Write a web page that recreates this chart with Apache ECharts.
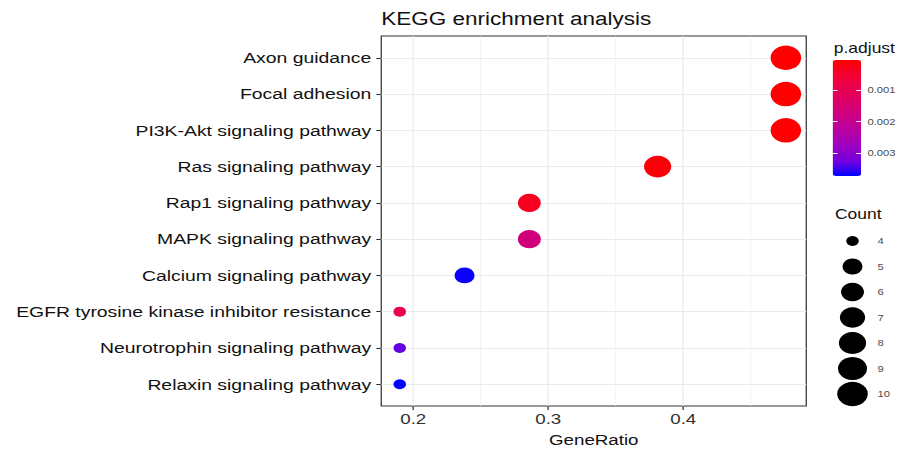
<!DOCTYPE html>
<html>
<head>
<meta charset="utf-8">
<title>KEGG enrichment analysis</title>
<script src="https://cdn.jsdelivr.net/npm/echarts@6/dist/echarts.min.js"></script>
<style>
  html, body { margin: 0; padding: 0; overflow: hidden; background: #fff; }
  /* the plot is laid out at 728px and stretched to 910px wide */
  #chart { width: 728px; height: 453px; transform: scaleX(1.25); transform-origin: 0 0; }
</style>
</head>
<body>
<div id="chart"></div>
<script>
// KEGG pathways, top to bottom
const pathways = [
  'Axon guidance',
  'Focal adhesion',
  'PI3K-Akt signaling pathway',
  'Ras signaling pathway',
  'Rap1 signaling pathway',
  'MAPK signaling pathway',
  'Calcium signaling pathway',
  'EGFR tyrosine kinase inhibitor resistance',
  'Neurotrophin signaling pathway',
  'Relaxin signaling pathway'
];
const geneRatio = [0.476, 0.476, 0.476, 0.381, 0.286, 0.286, 0.238, 0.190, 0.190, 0.190];
const geneCount = [10, 10, 10, 8, 6, 6, 5, 4, 4, 4];
const pAdjust   = [0.000032, 0.00004, 0.00005, 0.0001, 0.00033, 0.0017, 0.0037, 0.00092, 0.00333, 0.003735];

// axis ticks and legend keys
const xTicks = [0.2, 0.3, 0.4];
const xRange = [0.1763, 0.4911];
const pTicks = [0.001, 0.002, 0.003];
const countKeys = [4, 5, 6, 7, 8, 9, 10];

// red -> blue gradient (interpolated in Lab space)
const pColors = ['#ff0000', '#f40031', '#e80050', '#da006c', '#ca0088', '#b500a5', '#9a00c3', '#7300e0', '#0000ff'];

const rowPad = 0.6;
const rowIdx = pathways.map((_, i) => i);
const cMin = Math.min(...countKeys), cMax = Math.max(...countKeys);
const pMin = Math.min(...pAdjust), pMax = Math.max(...pAdjust);
// dot diameter: area-style size scale over the Count range
const dotSize = c => 10 + 14.5 * Math.sqrt((c - cMin) / (cMax - cMin));

const font = "'Liberation Sans', Arial, Helvetica, sans-serif";
const ink = '#111111';
const tickInk = '#333333';
const legendInk = '#4d4d4d';

const points = pathways.map((name, i) => [geneRatio[i], i, geneCount[i], pAdjust[i], name]);
const keyPoints = countKeys.map(c => ['k', String(c), c]);

const chart = echarts.init(document.getElementById('chart'), null, { renderer: 'svg' });
chart.setOption({
  animation: false,
  backgroundColor: '#ffffff',
  textStyle: { fontFamily: font },
  title: [
    { text: 'KEGG enrichment analysis', left: 305, top: 10, padding: 0,
      textStyle: { fontSize: 18, fontWeight: 'normal', color: ink, fontFamily: font } },
    { text: 'p.adjust', left: 667, top: 41, padding: 0,
      textStyle: { fontSize: 14, fontWeight: 'normal', color: ink, fontFamily: font } },
    { text: 'Count', left: 668, top: 207, padding: 0,
      textStyle: { fontSize: 14, fontWeight: 'normal', color: ink, fontFamily: font } }
  ],
  grid: [
    { left: 305, right: 83, top: 36, bottom: 42, show: true, borderColor: '#333333', borderWidth: 1, backgroundColor: '#ffffff' },
    { left: 666, top: 60, width: 23, height: 116 },
    { left: 672, top: 241, width: 20, height: 153 }
  ],
  xAxis: [
    { gridIndex: 0, type: 'value', min: xRange[0], max: xRange[1], minInterval: 0.1, maxInterval: 0.1,
      name: 'GeneRatio', nameLocation: 'middle', nameGap: 27,
      nameTextStyle: { fontSize: 15, color: ink, fontFamily: font },
      axisLine: { show: false, onZero: false },
      axisTick: { show: true, length: 4, customValues: xTicks, lineStyle: { color: tickInk } },
      axisLabel: { customValues: xTicks, fontSize: 15, color: '#333333', margin: 6,
        formatter: v => v.toFixed(1) },
      splitLine: { show: true, lineStyle: { color: '#ebebeb', width: 1 } },
      minorTick: { show: false, splitNumber: 2 },
      minorSplitLine: { show: true, lineStyle: { color: '#ebebeb', width: 0.6 } } },
    { gridIndex: 1, type: 'value', show: false },
    { gridIndex: 2, type: 'category', data: ['k'], show: false }
  ],
  yAxis: [
    { gridIndex: 0, type: 'value', inverse: true, min: -rowPad, max: pathways.length - 1 + rowPad,
      minInterval: 1, maxInterval: 1,
      axisLine: { show: false, onZero: false },
      axisTick: { show: true, length: 4, customValues: rowIdx, lineStyle: { color: tickInk } },
      axisLabel: { customValues: rowIdx, fontSize: 15.5, color: ink, margin: 8,
        formatter: v => pathways[Math.round(v)] || '' },
      splitLine: { show: true, lineStyle: { color: '#ebebeb', width: 1 } } },
    { gridIndex: 1, type: 'value', inverse: true, min: pMin, max: pMax, position: 'right', z: 10,
      minInterval: 0.001, maxInterval: 0.001,
      axisLine: { show: false, onZero: false },
      axisTick: { show: true, inside: true, length: 4, customValues: pTicks, lineStyle: { color: '#ffffff', width: 1 } },
      axisLabel: { customValues: pTicks, fontSize: 9, color: legendInk, margin: 5,
        formatter: v => v.toFixed(3) },
      splitLine: { show: false } },
    { gridIndex: 1, type: 'value', inverse: true, min: pMin, max: pMax, position: 'left', z: 10,
      minInterval: 0.001, maxInterval: 0.001,
      axisLine: { show: false, onZero: false },
      axisTick: { show: true, inside: true, length: 4, customValues: pTicks, lineStyle: { color: '#ffffff', width: 1 } },
      axisLabel: { show: false },
      splitLine: { show: false } },
    { gridIndex: 2, type: 'category', data: countKeys.map(String), boundaryGap: false, inverse: true, position: 'right',
      axisLine: { show: false, onZero: false }, axisTick: { show: false },
      axisLabel: { fontSize: 9, color: legendInk, margin: 10 },
      splitLine: { show: false } }
  ],
  visualMap: {
    type: 'continuous', seriesIndex: 0, dimension: 3, min: pMin, max: pMax,
    inverse: true, calculable: false, hoverLink: false, padding: 0,
    left: 666, top: 60, itemWidth: 23, itemHeight: 116, text: null,
    inRange: { color: pColors }
  },
  series: [
    { name: 'pathways', type: 'scatter', xAxisIndex: 0, yAxisIndex: 0, data: points,
      encode: { x: 0, y: 1 }, symbol: 'circle', symbolSize: d => dotSize(d[2]),
      itemStyle: { opacity: 1 }, z: 5 },
    { name: 'Count', type: 'scatter', xAxisIndex: 2, yAxisIndex: 3, data: keyPoints,
      encode: { x: 0, y: 1 }, symbol: 'circle', symbolSize: d => dotSize(d[2]),
      itemStyle: { color: '#000000', opacity: 1 } }
  ]
});
</script>
</body>
</html>
